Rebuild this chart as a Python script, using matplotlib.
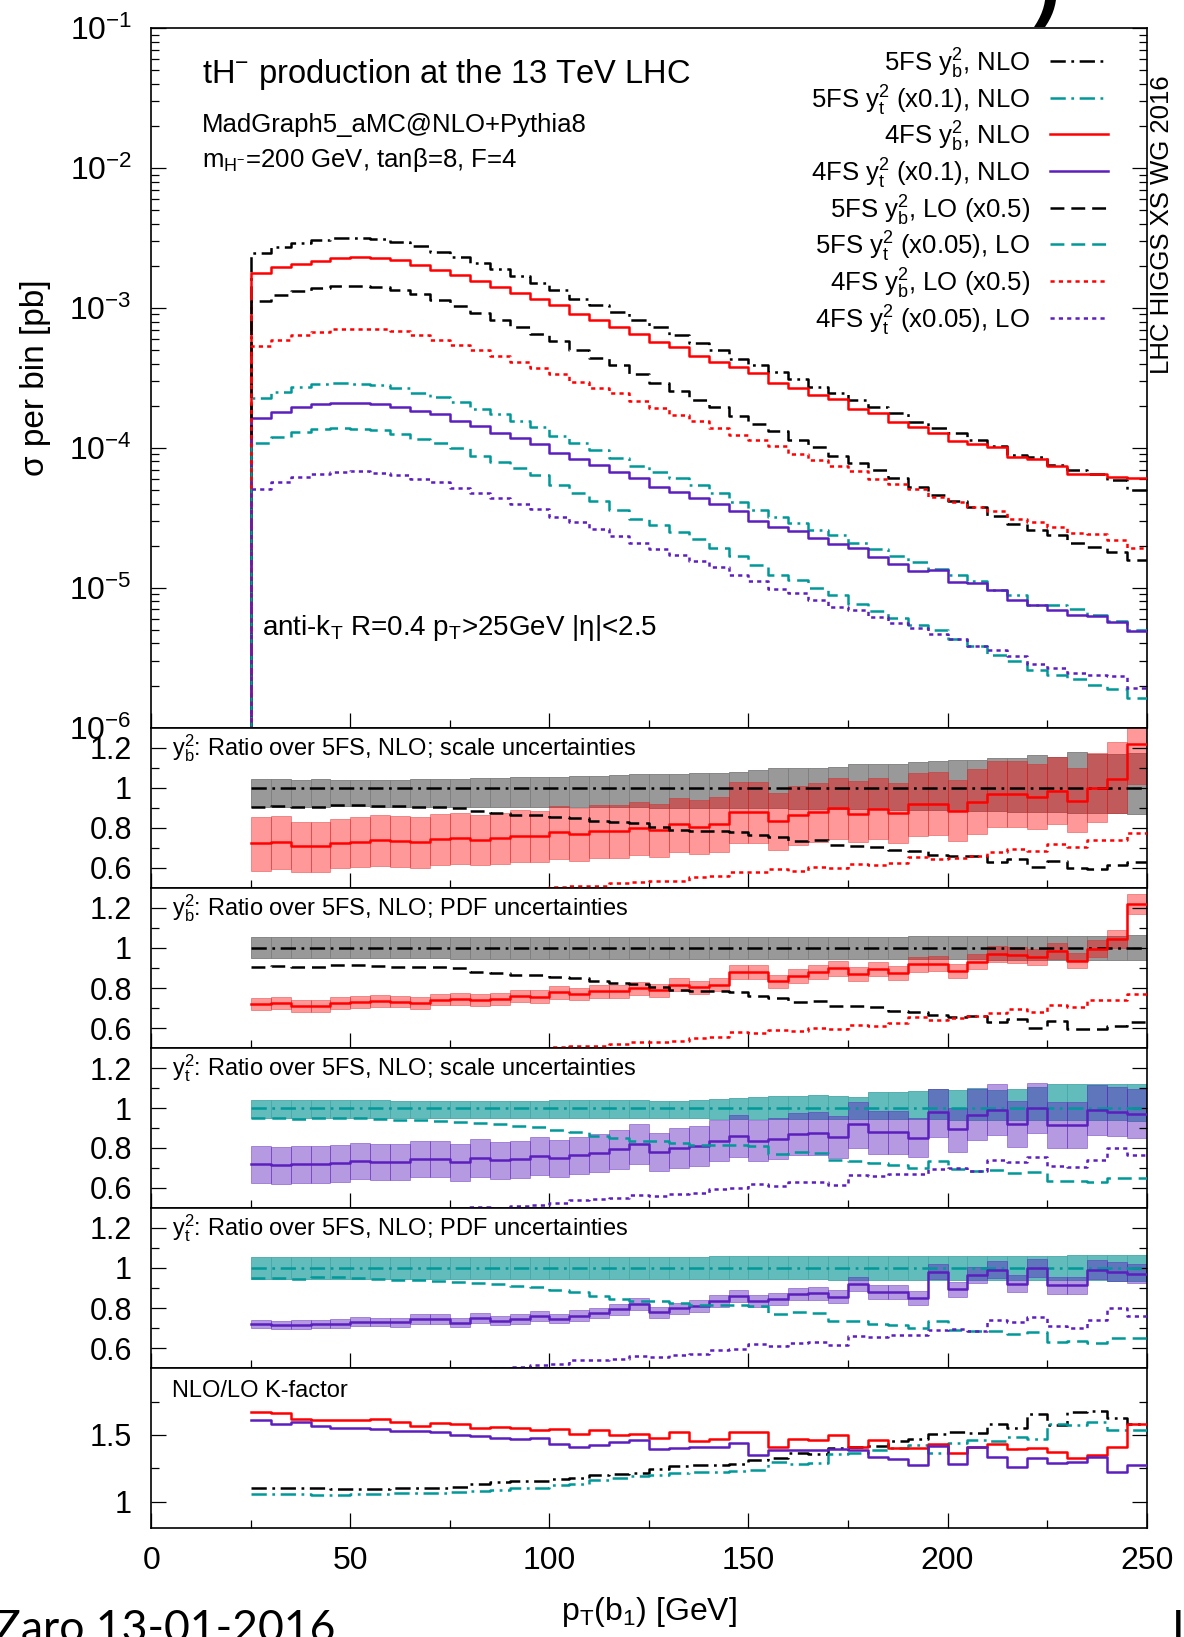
import numpy as np
import matplotlib
matplotlib.use('Agg')
import matplotlib.pyplot as plt
from matplotlib.lines import Line2D
from matplotlib.ticker import FixedLocator, FuncFormatter, NullFormatter, LogLocator, MultipleLocator

plt.rcParams['font.family'] = ['Liberation Sans', 'DejaVu Sans']
plt.rcParams['mathtext.fontset'] = 'custom'
plt.rcParams['mathtext.rm'] = 'Liberation Sans'
plt.rcParams['mathtext.it'] = 'Liberation Sans:italic'
plt.rcParams['mathtext.bf'] = 'Liberation Sans:bold'
plt.rcParams['mathtext.default'] = 'regular'
plt.rcParams['lines.scale_dashes'] = False

# ---------------- data ----------------
pt_edges = np.arange(25, 255, 5)   # 45 bins of 5 GeV from 25 to 250

sigma_5fs_yb_nlo = [2.47e-3, 2.72e-3, 2.93e-3, 3.07e-3, 3.16e-3, 3.16e-3, 3.10e-3, 2.99e-3, 2.78e-3, 2.53e-3, 2.31e-3, 2.11e-3, 1.89e-3, 1.69e-3, 1.52e-3,
                    1.35e-3, 1.17e-3, 1.05e-3, 9.42e-4, 8.22e-4, 7.29e-4, 6.43e-4, 5.66e-4, 5.02e-4, 4.30e-4, 3.92e-4, 3.51e-4, 3.11e-4, 2.74e-4, 2.48e-4,
                    2.20e-4, 1.97e-4, 1.77e-4, 1.54e-4, 1.38e-4, 1.27e-4, 1.14e-4, 1.04e-4, 8.91e-5, 8.67e-5, 7.57e-5, 6.97e-5, 6.52e-5, 5.90e-5, 5.01e-5]
sigma_5fs_yt_nlo = [2.27e-3, 2.53e-3, 2.74e-3, 2.85e-3, 2.90e-3, 2.87e-3, 2.82e-3, 2.67e-3, 2.48e-3, 2.33e-3, 2.14e-3, 1.90e-3, 1.74e-3, 1.57e-3, 1.41e-3,
                    1.22e-3, 1.09e-3, 9.68e-4, 8.53e-4, 7.46e-4, 6.77e-4, 6.07e-4, 5.44e-4, 4.74e-4, 4.13e-4, 3.61e-4, 3.23e-4, 2.92e-4, 2.59e-4, 2.39e-4,
                    2.08e-4, 1.89e-4, 1.69e-4, 1.54e-4, 1.36e-4, 1.24e-4, 1.12e-4, 9.66e-5, 8.89e-5, 7.55e-5, 7.55e-5, 7.03e-5, 6.40e-5, 5.80e-5, 5.03e-5]
# 4FS / 5FS NLO ratios
ratio_4fs_yb = [0.722, 0.727, 0.710, 0.710, 0.725, 0.730, 0.737, 0.733, 0.727, 0.743, 0.747, 0.740, 0.747, 0.760, 0.758,
                0.779, 0.769, 0.783, 0.783, 0.799, 0.789, 0.817, 0.804, 0.817, 0.881, 0.881, 0.834, 0.862, 0.878, 0.898,
                0.870, 0.896, 0.873, 0.918, 0.921, 0.886, 0.931, 0.969, 0.967, 0.956, 0.985, 0.936, 0.997, 1.046, 1.219]
ratio_4fs_yt = [0.720, 0.715, 0.718, 0.721, 0.723, 0.733, 0.731, 0.730, 0.745, 0.745, 0.728, 0.751, 0.738, 0.745, 0.761,
                0.748, 0.763, 0.774, 0.794, 0.820, 0.779, 0.799, 0.810, 0.837, 0.861, 0.837, 0.847, 0.870, 0.873, 0.856,
                0.919, 0.880, 0.880, 0.850, 0.982, 0.893, 0.963, 0.991, 0.922, 1.000, 0.914, 0.914, 0.990, 0.982, 0.972]
# NLO/LO K-factors
kfac_5fs_yb = [1.104, 1.100, 1.104, 1.104, 1.092, 1.092, 1.098, 1.102, 1.104, 1.104, 1.113, 1.135, 1.145, 1.156, 1.156,
               1.170, 1.176, 1.200, 1.210, 1.218, 1.244, 1.267, 1.277, 1.277, 1.281, 1.311, 1.331, 1.366, 1.355, 1.405,
               1.408, 1.418, 1.456, 1.468, 1.506, 1.524, 1.513, 1.585, 1.550, 1.661, 1.575, 1.672, 1.678, 1.631, 1.585]
kfac_4fs_yb = [1.675, 1.668, 1.618, 1.610, 1.613, 1.615, 1.618, 1.600, 1.568, 1.593, 1.580, 1.550, 1.563, 1.555, 1.535,
               1.545, 1.508, 1.535, 1.500, 1.505, 1.480, 1.525, 1.455, 1.468, 1.520, 1.525, 1.408, 1.473, 1.460, 1.503,
               1.408, 1.463, 1.400, 1.400, 1.433, 1.363, 1.413, 1.433, 1.393, 1.400, 1.375, 1.330, 1.350, 1.413, 1.580]
kfac_5fs_yt = [1.055, 1.055, 1.058, 1.050, 1.050, 1.055, 1.058, 1.063, 1.063, 1.068, 1.075, 1.083, 1.088, 1.100, 1.105,
               1.125, 1.135, 1.163, 1.180, 1.195, 1.200, 1.213, 1.225, 1.225, 1.230, 1.235, 1.300, 1.285, 1.290, 1.355,
               1.363, 1.385, 1.400, 1.425, 1.363, 1.443, 1.463, 1.455, 1.488, 1.470, 1.580, 1.575, 1.595, 1.538, 1.538]
kfac_4fs_yt = [1.610, 1.583, 1.595, 1.568, 1.555, 1.550, 1.545, 1.528, 1.528, 1.520, 1.500, 1.495, 1.475, 1.468, 1.475,
               1.433, 1.413, 1.425, 1.450, 1.460, 1.395, 1.405, 1.413, 1.413, 1.443, 1.350, 1.388, 1.388, 1.388, 1.395,
               1.388, 1.338, 1.320, 1.275, 1.418, 1.280, 1.408, 1.338, 1.263, 1.325, 1.288, 1.300, 1.338, 1.225, 1.275]
# relative scale uncertainties (up / down)
scale_5fs_yb_up = [0.046, 0.043, 0.040, 0.046, 0.038, 0.038, 0.040, 0.041, 0.043, 0.044, 0.044, 0.049, 0.051, 0.054, 0.054,
                   0.056, 0.061, 0.059, 0.062, 0.067, 0.067, 0.071, 0.074, 0.075, 0.081, 0.087, 0.097, 0.097, 0.097, 0.105,
                   0.117, 0.120, 0.120, 0.128, 0.133, 0.140, 0.137, 0.147, 0.150, 0.166, 0.156, 0.178, 0.170, 0.170, 0.175]
scale_5fs_yb_dn = [0.094, 0.094, 0.094, 0.094, 0.093, 0.093, 0.094, 0.094, 0.094, 0.094, 0.095, 0.095, 0.095, 0.095, 0.096,
                   0.096, 0.097, 0.097, 0.098, 0.098, 0.099, 0.099, 0.100, 0.100, 0.100, 0.102, 0.103, 0.104, 0.105, 0.106,
                   0.108, 0.108, 0.110, 0.110, 0.112, 0.114, 0.115, 0.118, 0.120, 0.122, 0.122, 0.125, 0.126, 0.128, 0.130]
scale_4fs_yb_up = [0.181, 0.179, 0.168, 0.168, 0.165, 0.168, 0.170, 0.170, 0.172, 0.171, 0.170, 0.170, 0.168, 0.168, 0.168,
                   0.166, 0.166, 0.165, 0.165, 0.165, 0.165, 0.162, 0.165, 0.165, 0.165, 0.165, 0.170, 0.168, 0.168, 0.170,
                   0.190, 0.172, 0.170, 0.172, 0.170, 0.172, 0.175, 0.172, 0.170, 0.172, 0.172, 0.175, 0.175, 0.175, 0.175]
scale_4fs_yb_dn = [0.190, 0.183, 0.183, 0.183, 0.174, 0.175, 0.176, 0.176, 0.176, 0.172, 0.172, 0.172, 0.172, 0.172, 0.172,
                   0.175, 0.175, 0.172, 0.170, 0.170, 0.170, 0.168, 0.168, 0.170, 0.181, 0.180, 0.175, 0.172, 0.172, 0.170,
                   0.161, 0.170, 0.170, 0.172, 0.170, 0.172, 0.172, 0.170, 0.170, 0.170, 0.170, 0.170, 0.168, 0.165, 0.165]
scale_5fs_yt_up = [0.041, 0.041, 0.041, 0.041, 0.040, 0.043, 0.043, 0.037, 0.035, 0.035, 0.038, 0.038, 0.038, 0.038, 0.038,
                   0.042, 0.043, 0.043, 0.043, 0.041, 0.038, 0.038, 0.041, 0.046, 0.051, 0.054, 0.061, 0.061, 0.067, 0.062,
                   0.057, 0.082, 0.082, 0.087, 0.095, 0.090, 0.100, 0.092, 0.095, 0.107, 0.123, 0.123, 0.120, 0.120, 0.122]
scale_5fs_yt_dn = [0.048, 0.048, 0.048, 0.048, 0.048, 0.048, 0.048, 0.048, 0.049, 0.049, 0.049, 0.049, 0.050, 0.050, 0.050,
                   0.050, 0.050, 0.051, 0.051, 0.051, 0.052, 0.052, 0.052, 0.053, 0.053, 0.053, 0.053, 0.054, 0.054, 0.054,
                   0.055, 0.055, 0.056, 0.056, 0.057, 0.058, 0.058, 0.059, 0.060, 0.060, 0.061, 0.061, 0.062, 0.062, 0.063]
scale_4fs_yt_up = [0.125, 0.125, 0.125, 0.125, 0.124, 0.124, 0.124, 0.124, 0.123, 0.123, 0.123, 0.122, 0.122, 0.122, 0.122,
                   0.121, 0.121, 0.121, 0.121, 0.121, 0.122, 0.124, 0.124, 0.124, 0.123, 0.125, 0.124, 0.123, 0.123, 0.124,
                   0.120, 0.122, 0.122, 0.120, 0.115, 0.120, 0.140, 0.130, 0.125, 0.125, 0.125, 0.125, 0.125, 0.125, 0.125]
scale_4fs_yt_dn = [0.135, 0.135, 0.133, 0.132, 0.130, 0.124, 0.125, 0.125, 0.125, 0.125, 0.126, 0.126, 0.126, 0.126, 0.125,
                   0.125, 0.125, 0.125, 0.125, 0.125, 0.124, 0.124, 0.124, 0.124, 0.124, 0.124, 0.124, 0.124, 0.124, 0.124,
                   0.130, 0.125, 0.125, 0.110, 0.128, 0.125, 0.128, 0.125, 0.125, 0.125, 0.125, 0.125, 0.125, 0.125, 0.125]
# relative PDF uncertainties (symmetric)
pdf_5fs_yb = [0.052, 0.052, 0.052, 0.052, 0.052, 0.052, 0.052, 0.052, 0.052, 0.052, 0.053, 0.053, 0.053, 0.053, 0.053,
              0.053, 0.053, 0.054, 0.054, 0.054, 0.054, 0.054, 0.054, 0.055, 0.055, 0.055, 0.055, 0.055, 0.055, 0.056,
              0.056, 0.056, 0.056, 0.057, 0.057, 0.057, 0.057, 0.058, 0.058, 0.059, 0.059, 0.060, 0.060, 0.061, 0.062]
pdf_4fs_yb = [0.040, 0.040, 0.041, 0.041, 0.041, 0.040, 0.040, 0.040, 0.040, 0.040, 0.040, 0.040, 0.040, 0.040, 0.040,
              0.040, 0.040, 0.040, 0.040, 0.040, 0.040, 0.040, 0.040, 0.040, 0.040, 0.040, 0.040, 0.040, 0.040, 0.040,
              0.040, 0.040, 0.040, 0.040, 0.040, 0.040, 0.040, 0.040, 0.041, 0.041, 0.041, 0.041, 0.042, 0.042, 0.042]
pdf_5fs_yt = [0.055, 0.055, 0.055, 0.055, 0.055, 0.055, 0.055, 0.055, 0.055, 0.055, 0.055, 0.055, 0.055, 0.055, 0.055,
              0.055, 0.055, 0.056, 0.056, 0.056, 0.056, 0.056, 0.056, 0.057, 0.057, 0.057, 0.057, 0.057, 0.057, 0.058,
              0.058, 0.058, 0.058, 0.059, 0.059, 0.059, 0.059, 0.060, 0.060, 0.061, 0.061, 0.062, 0.062, 0.063, 0.064]
pdf_4fs_yt = [0.030, 0.030, 0.030, 0.030, 0.030, 0.030, 0.030, 0.031, 0.031, 0.031, 0.031, 0.032, 0.032, 0.032, 0.032,
              0.033, 0.033, 0.033, 0.033, 0.034, 0.034, 0.034, 0.035, 0.035, 0.035, 0.036, 0.036, 0.036, 0.037, 0.037,
              0.038, 0.038, 0.039, 0.039, 0.040, 0.041, 0.042, 0.043, 0.044, 0.045, 0.046, 0.047, 0.048, 0.049, 0.050]

A = np.asarray(sigma_5fs_yb_nlo); T = np.asarray(sigma_5fs_yt_nlo)
rb = np.asarray(ratio_4fs_yb); rt = np.asarray(ratio_4fs_yt)
K5b = np.asarray(kfac_5fs_yb); K4b = np.asarray(kfac_4fs_yb)
K5t = np.asarray(kfac_5fs_yt); K4t = np.asarray(kfac_4fs_yt)

# ---------------- style ----------------
BLACK = '#000000'; TEAL = '#009898'; RED = '#ff0000'; PURPLE = '#5b1fbd'
DASHDOT = (0, (11, 4, 2, 4))
DASHED = (0, (10, 5))
DOTTED = (0, (3, 3))
LW = 1.8

W, H = 1184, 1637
fig = plt.figure(figsize=(W / 100, H / 100), dpi=100)
L, R = 151.3, 1146.6
bounds = [28.3, 727.7, 887.7, 1048.3, 1207.7, 1368.3, 1528.3]
axes = []
for i in range(6):
    top, bot = bounds[i], bounds[i + 1]
    axes.append(fig.add_axes([L / W, 1 - bot / H, (R - L) / W, (bot - top) / H]))


def steps(ax, vals, floor=None, **kw):
    v = np.asarray(vals)
    x = np.r_[pt_edges[0], pt_edges]
    first = floor if floor is not None else v[0]
    y = np.r_[first, v, v[-1]]
    ax.plot(x, y, drawstyle='steps-post', **kw)


def band(ax, lo, hi, face, edge):
    ax.bar(pt_edges[:-1], hi - lo, width=5, bottom=lo, align='edge', color=face,
           edgecolor=edge, linewidth=0.6, zorder=1)


for ax in axes:
    ax.set_xlim(0, 250)
    for s in ax.spines.values():
        s.set_linewidth(1.2)
    ax.xaxis.set_major_locator(MultipleLocator(50))
    ax.xaxis.set_minor_locator(MultipleLocator(25))
    ax.tick_params(which='both', direction='in', top=False, right=True, width=0.9,
                   labelsize=22, pad=14)
    ax.tick_params(which='major', length=10.5)
    ax.tick_params(which='minor', length=5.5)
    ax.tick_params(axis='x', labelbottom=False)

# ---------------- main panel ----------------
ax0 = axes[0]
ax0.set_yscale('log')
ax0.set_ylim(1e-6, 1e-1)
ax0.yaxis.set_major_locator(FixedLocator([1e-6, 1e-5, 1e-4, 1e-3, 1e-2, 1e-1]))
ax0.yaxis.set_major_formatter(FuncFormatter(lambda v, p: r'$10^{%d}$' % int(round(np.log10(v)))))
ax0.yaxis.set_minor_locator(LogLocator(base=10, subs=np.arange(2, 10), numticks=20))
ax0.yaxis.set_minor_formatter(NullFormatter())
ax0.tick_params(axis='y', labelsize=23)

floor = 1e-9
main_series = [
    (A, BLACK, DASHDOT),
    (T * 0.1, TEAL, DASHDOT),
    (A * rb, RED, '-'),
    (T * rt * 0.1, PURPLE, '-'),
    (A / K5b * 0.5, BLACK, DASHED),
    (T / K5t * 0.05, TEAL, DASHED),
    (A * rb / K4b * 0.5, RED, DOTTED),
    (T * rt / K4t * 0.05, PURPLE, DOTTED),
]
for vals, c, ls in main_series:
    steps(ax0, vals, floor=floor, color=c, linestyle=ls, lw=LW, zorder=3)

legend_labels = ['5FS $y_{b}^{2}$, NLO', '5FS $y_{t}^{2}$ (x0.1), NLO', '4FS $y_{b}^{2}$, NLO',
                 '4FS $y_{t}^{2}$ (x0.1), NLO', '5FS $y_{b}^{2}$, LO (x0.5)', '5FS $y_{t}^{2}$ (x0.05), LO',
                 '4FS $y_{b}^{2}$, LO (x0.5)', '4FS $y_{t}^{2}$ (x0.05), LO']
row_px = [61, 97.7, 134.3, 171, 207.7, 244.3, 281, 317.7]
hpx = bounds[1] - bounds[0]
xt = (1030 - L) / (R - L); xl0 = (1050 - L) / (R - L); xl1 = (1108 - L) / (R - L)
for (vals, c, ls), lab, ypx in zip(main_series, legend_labels, row_px):
    yf = (bounds[1] - ypx) / hpx
    ax0.add_line(Line2D([xl0, xl1], [yf, yf], transform=ax0.transAxes, color=c, linestyle=ls, lw=LW))
    ax0.text(xt, yf - 10.5 / hpx, lab, transform=ax0.transAxes, ha='right', va='baseline', fontsize=18.5)

tx = (201.5 - L) / (R - L)
ax0.text(tx, (bounds[1] - 83.3) / hpx, 'tH$^{-}$ production at the 13 TeV LHC', transform=ax0.transAxes,
         fontsize=23.5, va='baseline')
ax0.text(tx, (bounds[1] - 131.7) / hpx, 'MadGraph5_aMC@NLO+Pythia8', transform=ax0.transAxes,
         fontsize=18.5, va='baseline')
ax0.text(tx, (bounds[1] - 166.7) / hpx, '$m_{H^{-}}$=200 GeV, tanβ=8, F=4', transform=ax0.transAxes,
         fontsize=18.5, va='baseline')
ax0.text((261.7 - L) / (R - L), (bounds[1] - 635) / hpx, 'anti-$k_{T}$ R=0.4 $p_{T}$>25GeV |η|<2.5',
         transform=ax0.transAxes, fontsize=20, va='baseline')

# ---------------- ratio panels ----------------
ones = A / A
ones_t = T / T
ratio_specs = [
    ('$y_{b}^{2}$: Ratio over 5FS, NLO; scale uncertainties',
     (1 - np.asarray(scale_5fs_yb_dn), 1 + np.asarray(scale_5fs_yb_up)),
     (rb * (1 - np.asarray(scale_4fs_yb_dn)), rb * (1 + np.asarray(scale_4fs_yb_up))),
     '#999999', '#7d7d7d', (1, 0, 0, 0.4), (0.85, 0.1, 0.1, 0.45),
     ones, rb, 1 / K5b, rb / K4b, BLACK, RED),
    ('$y_{b}^{2}$: Ratio over 5FS, NLO; PDF uncertainties',
     (1 - np.asarray(pdf_5fs_yb), 1 + np.asarray(pdf_5fs_yb)),
     (rb * (1 - np.asarray(pdf_4fs_yb)), rb * (1 + np.asarray(pdf_4fs_yb))),
     '#999999', '#7d7d7d', (1, 0, 0, 0.4), (0.85, 0.1, 0.1, 0.45),
     ones, rb, 1 / K5b, rb / K4b, BLACK, RED),
    ('$y_{t}^{2}$: Ratio over 5FS, NLO; scale uncertainties',
     (1 - np.asarray(scale_5fs_yt_dn), 1 + np.asarray(scale_5fs_yt_up)),
     (rt * (1 - np.asarray(scale_4fs_yt_dn)), rt * (1 + np.asarray(scale_4fs_yt_up))),
     '#63bcbc', '#47a8a8', (0.36, 0.12, 0.74, 0.45), (0.36, 0.12, 0.74, 0.5),
     ones_t, rt, 1 / K5t, rt / K4t, TEAL, PURPLE),
    ('$y_{t}^{2}$: Ratio over 5FS, NLO; PDF uncertainties',
     (1 - np.asarray(pdf_5fs_yt), 1 + np.asarray(pdf_5fs_yt)),
     (rt * (1 - np.asarray(pdf_4fs_yt)), rt * (1 + np.asarray(pdf_4fs_yt))),
     '#63bcbc', '#47a8a8', (0.36, 0.12, 0.74, 0.45), (0.36, 0.12, 0.74, 0.5),
     ones_t, rt, 1 / K5t, rt / K4t, TEAL, PURPLE),
]
for ax, spec in zip(axes[1:5], ratio_specs):
    (label, b5, b4, f5, e5, f4, e4, c5nlo, c4nlo, c5lo, c4lo, col5, col4) = spec
    ax.set_ylim(0.5, 1.3)
    ax.yaxis.set_major_locator(FixedLocator([0.6, 0.8, 1.0, 1.2]))
    ax.yaxis.set_minor_locator(FixedLocator([0.7, 0.9, 1.1]))
    ax.yaxis.set_major_formatter(FuncFormatter(lambda v, p: '%g' % v))
    band(ax, b5[0], b5[1], f5, e5)
    band(ax, b4[0], b4[1], f4, e4)
    steps(ax, c5nlo, color=col5, linestyle=DASHDOT, lw=LW, zorder=3)
    steps(ax, c4nlo, color=col4, linestyle='-', lw=LW, zorder=3)
    steps(ax, c5lo, color=col5, linestyle=DASHED, lw=LW, zorder=3)
    steps(ax, c4lo, color=col4, linestyle=DOTTED, lw=LW, zorder=3)
    ax.text((171.5 - L) / (R - L), 0.829, label, transform=ax.transAxes, fontsize=17, va='baseline')

# ---------------- K-factor panel ----------------
ax5 = axes[5]
ax5.set_ylim(0.8, 2.0)
ax5.yaxis.set_major_locator(FixedLocator([1.0, 1.5]))
ax5.yaxis.set_minor_locator(FixedLocator([1.25, 1.75]))
ax5.yaxis.set_major_formatter(FuncFormatter(lambda v, p: '%g' % v))
steps(ax5, K5b, color=BLACK, linestyle=DASHDOT, lw=LW, zorder=3)
steps(ax5, K5t, color=TEAL, linestyle=DASHDOT, lw=LW, zorder=3)
steps(ax5, K4b, color=RED, linestyle='-', lw=LW, zorder=3)
steps(ax5, K4t, color=PURPLE, linestyle='-', lw=LW, zorder=3)
ax5.text((171.5 - L) / (R - L), 0.8225, 'NLO/LO K-factor', transform=ax5.transAxes, fontsize=17, va='baseline')
ax5.tick_params(axis='x', labelbottom=True, labelsize=23, pad=13)

# ---------------- figure texts ----------------
fig.text(36 / W, 1 - 378 / H, 'σ per bin [pb]', rotation=90, ha='center', va='center', fontsize=24)
fig.text(649 / W, 1 - 1620 / H, '$p_{T}(b_{1})$ [GeV]', ha='center', va='baseline', fontsize=23)
fig.text(1162 / W, 1 - 224.5 / H, 'LHC HIGGS XS WG 2016', rotation=90, ha='center', va='center', fontsize=18.5)
# slide remnants around the chart
fig.text(-6 / W, (H - 1642) / H, 'Zaro 13-01-2016', ha='left', va='baseline', fontsize=32,
         family=['Lato', 'DejaVu Sans'])
fig.text(1172 / W, (H - 1642) / H, 'I', ha='left', va='baseline', fontsize=32,
         family=['Lato', 'DejaVu Sans'])
fig.text(1034 / W, 1 - 10 / H, ')', ha='left', va='baseline', fontsize=58, fontweight='bold',
         family=['Liberation Sans', 'DejaVu Sans'])

fig.savefig('out.png', dpi=100)
